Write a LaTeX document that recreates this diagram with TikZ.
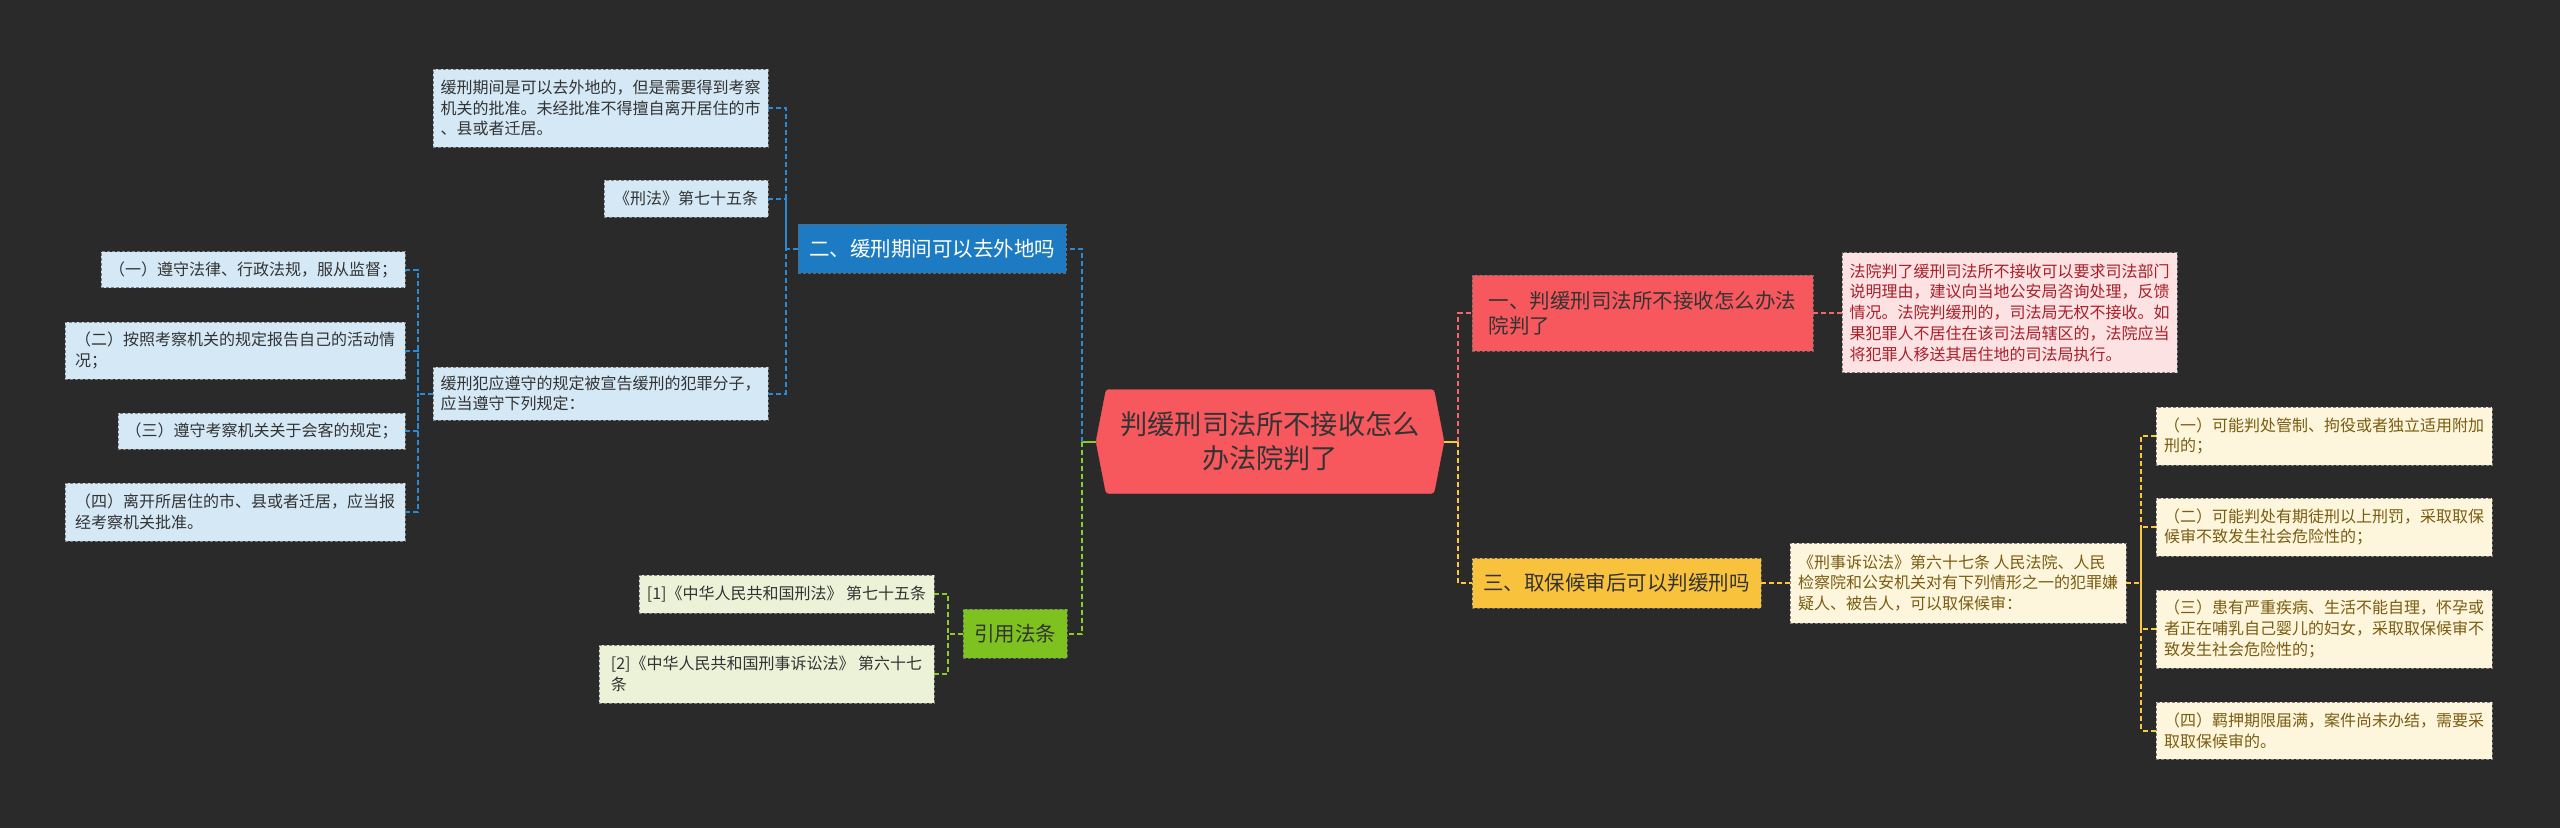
\documentclass[tikz,border=0pt]{standalone}
\usepackage{fontspec}
\newfontfamily\cjk{Noto Sans CJK SC}
\usetikzlibrary{shapes.symbols}
\definecolor{bgcol}{HTML}{2A2A2A}
\definecolor{rootred}{HTML}{F7585D}
\definecolor{mainblue}{HTML}{1D7BC3}
\definecolor{mainred}{HTML}{F7585D}
\definecolor{mainyellow}{HTML}{F9C23C}
\definecolor{maingreen}{HTML}{7DC21E}
\definecolor{pblue}{HTML}{D4E8F5}
\definecolor{pred}{HTML}{FDE2E3}
\definecolor{pyellow}{HTML}{FDF6DC}
\definecolor{pgreen}{HTML}{EBF2D8}
\definecolor{lblue}{HTML}{2A8AD6}
\definecolor{lred}{HTML}{F2676C}
\definecolor{lyellow}{HTML}{F9C840}
\definecolor{lgreen}{HTML}{8CCB2A}
\definecolor{tred}{HTML}{A8202A}
\definecolor{tyellow}{HTML}{7A5C12}
\definecolor{tdark}{HTML}{333333}
\tikzset{
  box/.style={draw=black!50, dash pattern=on 3pt off 2pt, line width=0.8pt,
    inner xsep=5pt, inner ysep=3pt, align=left, text=tdark,
    font=\cjk\fontsize{16}{20.8}\selectfont},
  bluebox/.style={box, fill=pblue},
  redbox/.style={box, fill=pred, text=tred},
  yellowbox/.style={box, fill=pyellow, text=tyellow},
  greenbox/.style={box, fill=pgreen},
  topic/.style={draw=black!60, dash pattern=on 3pt off 2pt, line width=0.8pt,
    inner xsep=5pt, inner ysep=3pt, align=left, text=tdark,
    font=\cjk\fontsize{20.5}{25}\selectfont},
  root/.style={shape=signal, signal to=west and east, signal pointer angle=158,
    fill=rootred, draw=rootred, rounded corners=3pt, align=center, text=tdark,
    minimum width=348, minimum height=104, inner sep=2pt,
    font=\cjk\fontsize{27.2}{34}\selectfont},
  link/.style={draw=#1, line width=2pt, dash pattern=on 5pt off 3pt},
  solidlink/.style={draw=#1, line width=2pt}
}
\begin{document}
\begin{tikzpicture}[x=1pt,y=-1pt]
\fill[bgcol] (0,0) rectangle (2560,828);
\node[root] (root) at (1270,441.5) {判缓刑司法所不接收怎么\\办法院判了};
\node[topic, fill=mainblue, text=white, minimum width=268, minimum height=49] (b2) at (932,248.5) {二、缓刑期间可以去外地吗};
\node[bluebox, minimum width=335, minimum height=78] (ba) at (600.5,108) {缓刑期间是可以去外地的，但是需要得到考察\\机关的批准。未经批准不得擅自离开居住的市\\、县或者迁居。};
\node[bluebox, minimum width=164, minimum height=37] (bb) at (686,198.5) {《刑法》第七十五条};
\node[bluebox, minimum width=335, minimum height=53] (bc) at (600.5,393.5) {缓刑犯应遵守的规定被宣告缓刑的犯罪分子，\\应当遵守下列规定：};
\node[bluebox, minimum width=304, minimum height=36] (k1) at (253,269.5) {（一）遵守法律、行政法规，服从监督；};
\node[bluebox, minimum width=340, minimum height=57] (k2) at (235,350.5) {（二）按照考察机关的规定报告自己的活动情\\况；};
\node[bluebox, minimum width=287, minimum height=36] (k3) at (261.5,431) {（三）遵守考察机关关于会客的规定；};
\node[bluebox, minimum width=340, minimum height=58] (k4) at (235,512) {（四）离开所居住的市、县或者迁居，应当报\\经考察机关批准。};
\node[topic, fill=maingreen, minimum width=104, minimum height=49] (g) at (1015,633.5) {引用法条};
\node[greenbox, minimum width=295, minimum height=38] (g1) at (786.5,594) {[1]《中华人民共和国刑法》 第七十五条};
\node[greenbox, minimum width=335, minimum height=58] (g2) at (766.5,674) {[2]《中华人民共和国刑事诉讼法》 第六十七\\条};
\node[topic, fill=mainred, minimum width=341, minimum height=76] (r1) at (1642.5,313) {一、判缓刑司法所不接收怎么办法\\院判了};
\node[redbox, minimum width=335, minimum height=120] (rd) at (2009.5,312.5) {法院判了缓刑司法所不接收可以要求司法部门\\说明理由，建议向当地公安局咨询处理，反馈\\情况。法院判缓刑的，司法局无权不接收。如\\果犯罪人不居住在该司法局辖区的，法院应当\\将犯罪人移送其居住地的司法局执行。};
\node[topic, fill=mainyellow, minimum width=289, minimum height=50] (y1) at (1616.5,583) {三、取保候审后可以判缓刑吗};
\node[yellowbox, minimum width=336, minimum height=80] (yd) at (1958,583) {《刑事诉讼法》第六十七条 人民法院、人民\\检察院和公安机关对有下列情形之一的犯罪嫌\\疑人、被告人，可以取保候审：};
\node[yellowbox, minimum width=336, minimum height=58] (yk1) at (2324,436) {（一）可能判处管制、拘役或者独立适用附加\\刑的；};
\node[yellowbox, minimum width=336, minimum height=58] (yk2) at (2324,527) {（二）可能判处有期徒刑以上刑罚，采取取保\\候审不致发生社会危险性的；};
\node[yellowbox, minimum width=336, minimum height=78] (yk3) at (2324,629) {（三）患有严重疾病、生活不能自理，怀孕或\\者正在哺乳自己婴儿的妇女，采取取保候审不\\致发生社会危险性的；};
\node[yellowbox, minimum width=336, minimum height=57] (yk4) at (2324,730.5) {（四）羁押期限届满，案件尚未办结，需要采\\取取保候审的。};
\coordinate (jl) at (1082,441.5);
\coordinate (jr) at (1458,441.5);
\coordinate (jb) at (786,248.5);
\coordinate (jc) at (418,393.5);
\coordinate (jg) at (948,633.5);
\coordinate (jy) at (2141,583);
\draw[solidlink=lgreen] (root.west) -- (jl);
\draw[link=lblue] (jl) |- (b2.east);
\draw[link=lgreen] (jl) |- (g.east);
\draw[solidlink=lyellow] (root.east) -- (jr);
\draw[link=lred] (jr) |- (r1.west);
\draw[link=lyellow] (jr) |- (y1.west);
\draw[link=lblue] (b2.west) -- (jb);
\foreach \n in {ba,bb,bc} \draw[link=lblue] (\n.east) -| (jb);
\draw[link=lblue] (bc.west) -- (jc);
\foreach \n in {k1,k2,k3,k4} \draw[link=lblue] (\n.east) -| (jc);
\draw[link=lgreen] (g.west) -- (jg);
\foreach \n in {g1,g2} \draw[link=lgreen] (\n.east) -| (jg);
\draw[link=lred] (r1.east) -- (r1.east -| rd.west);
\draw[link=lyellow] (y1.east) -- (yd.west);
\draw[link=lyellow] (yd.east) -- (jy);
\foreach \n in {yk1,yk2,yk3,yk4} \draw[link=lyellow] (\n.west) -| (jy);
\end{tikzpicture}
\end{document}
